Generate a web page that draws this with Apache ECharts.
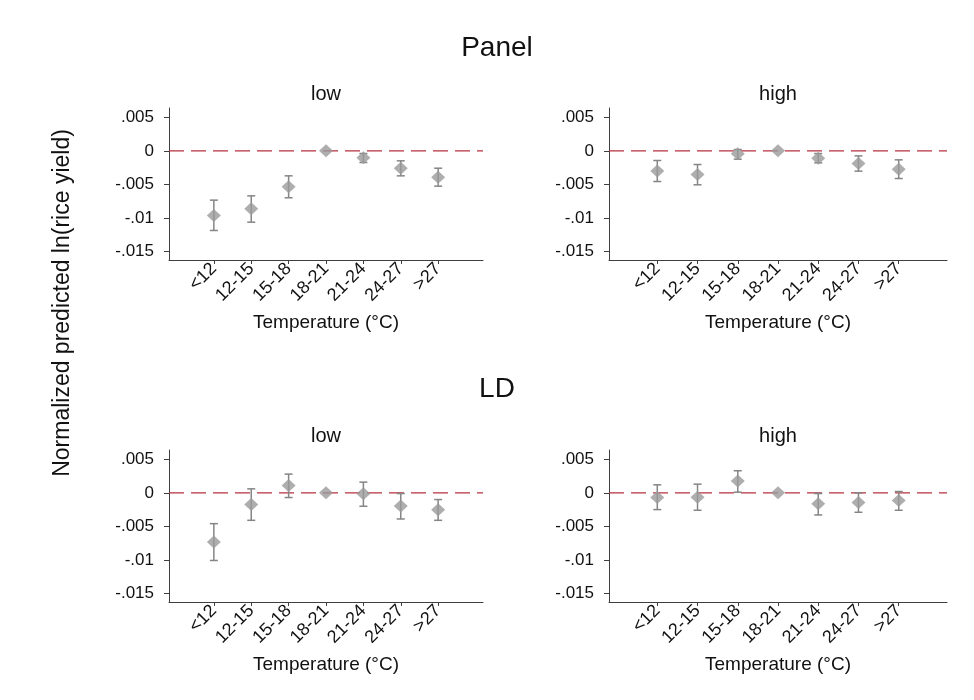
<!DOCTYPE html>
<html>
<head>
<meta charset="utf-8">
<title>Normalized predicted ln(rice yield) by temperature bin</title>
<script src="https://cdn.jsdelivr.net/npm/echarts@6/dist/echarts.min.js"></script>
<style>
  html, body { margin: 0; padding: 0; background: #fff; }
  #chart { width: 974px; height: 700px; }
</style>
</head>
<body>
<div id="chart"></div>
<script>
// Temperature bins (x axis categories)
const tempBins = ['<12', '12-15', '15-18', '18-21', '21-24', '24-27', '>27'];

// Y-axis tick values and their labels
const yTickValues = [0.005, 0, -0.005, -0.01, -0.015];
const yTickLabels = ['.005', '0', '-.005', '-.01', '-.015'];

// Panel, low
const panelLowCoef  = [-0.00965, -0.00866, -0.00537, 0, -0.00104, -0.00259, -0.00393];
const panelLowUpper = [-0.00736, -0.00672, -0.00373, null, -0.00040, -0.00149, -0.00259];
const panelLowLower = [-0.01189, -0.01065, -0.00701, null, -0.00174, -0.00373, -0.00527];

// Panel, high
const panelHighCoef  = [-0.00299, -0.00353, -0.00045, 0, -0.00109, -0.00189, -0.00274];
const panelHighUpper = [-0.00144, -0.00204, 0.00020, null, -0.00040, -0.00075, -0.00134];
const panelHighLower = [-0.00458, -0.00507, -0.00124, null, -0.00179, -0.00303, -0.00413];

// LD, low
const ldLowCoef  = [-0.00733, -0.00173, 0.00109, 0, -0.00015, -0.00198, -0.00252];
const ldLowUpper = [-0.00460, 0.00060, 0.00280, null, 0.00160, -0.00010, -0.00100];
const ldLowLower = [-0.01010, -0.00410, -0.00070, null, -0.00200, -0.00390, -0.00410];

// LD, high
const ldHighCoef  = [-0.00070, -0.00064, 0.00178, 0, -0.00163, -0.00144, -0.00114];
const ldHighUpper = [0.00120, 0.00130, 0.00330, null, -0.00010, 0.00000, 0.00020];
const ldHighLower = [-0.00250, -0.00260, 0.00010, null, -0.00330, -0.00290, -0.00260];

// Axis ranges
const xRange = [-0.2, 8.2];
const yRange = [-0.0163, 0.0064];

const FONT = "'Liberation Sans', Arial, Helvetica, sans-serif";
const AXIS_COLOR = '#3f3f3f';
const MARK_COLOR = '#9a9a9a';
const BAR_COLOR = '#858585';
const REF_COLOR = '#b8303f';

const panels = [
  { coef: panelLowCoef,  upper: panelLowUpper,  lower: panelLowLower,  grid: { left: 169, top: 108, width: 314, height: 152 } },
  { coef: panelHighCoef, upper: panelHighUpper, lower: panelHighLower, grid: { left: 609, top: 108, width: 338, height: 152 } },
  { coef: ldLowCoef,     upper: ldLowUpper,     lower: ldLowLower,     grid: { left: 169, top: 450, width: 314, height: 152 } },
  { coef: ldHighCoef,    upper: ldHighUpper,    lower: ldHighLower,    grid: { left: 609, top: 450, width: 338, height: 152 } }
];

const binPositions = tempBins.map((_, i) => i + 1);

function yLabel(v) {
  let best = 0;
  for (let i = 1; i < yTickValues.length; i++) {
    if (Math.abs(yTickValues[i] - v) < Math.abs(yTickValues[best] - v)) best = i;
  }
  return yTickLabels[best];
}

const grids = [], xAxes = [], yAxes = [], series = [];

panels.forEach((p, idx) => {
  grids.push(Object.assign({ containLabel: false }, p.grid));

  xAxes.push({
    type: 'value', gridIndex: idx, min: xRange[0], max: xRange[1],
    name: 'Temperature (°C)', nameLocation: 'middle', nameGap: 53,
    nameTextStyle: { fontFamily: FONT, fontSize: 19, color: '#111' },
    axisLine: { show: true, onZero: false, lineStyle: { color: AXIS_COLOR, width: 1 } },
    axisTick: { show: true, length: 4, customValues: binPositions, lineStyle: { color: AXIS_COLOR } },
    axisLabel: {
      show: true, rotate: 45, margin: 6, fontFamily: FONT, fontSize: 18, color: '#111',
      customValues: binPositions,
      formatter: v => tempBins[Math.round(v) - 1] || ''
    },
    splitLine: { show: false }
  });

  yAxes.push({
    type: 'value', gridIndex: idx, min: yRange[0], max: yRange[1],
    axisLine: { show: true, onZero: false, lineStyle: { color: AXIS_COLOR, width: 1 } },
    axisTick: { show: true, length: 5, customValues: yTickValues, lineStyle: { color: AXIS_COLOR } },
    axisLabel: {
      show: true, margin: 15, fontFamily: FONT, fontSize: 17, color: '#111',
      customValues: yTickValues,
      formatter: v => yLabel(v)
    },
    splitLine: { show: false }
  });

  // dashed reference line at zero across the plot
  series.push({
    type: 'line', xAxisIndex: idx, yAxisIndex: idx, silent: true, z: 2,
    symbol: 'none',
    lineStyle: { color: REF_COLOR, width: 1.3, type: [15, 7] },
    data: [[xRange[0], 0], [xRange[1], 0]]
  });

  // confidence interval bars
  const ciData = [];
  tempBins.forEach((_, i) => {
    if (p.upper[i] !== null && p.lower[i] !== null) ciData.push([i + 1, p.lower[i], p.upper[i]]);
  });
  series.push({
    type: 'custom', xAxisIndex: idx, yAxisIndex: idx, silent: true, z: 3,
    data: ciData,
    renderItem: (params, api) => {
      const lo = api.coord([api.value(0), api.value(1)]);
      const hi = api.coord([api.value(0), api.value(2)]);
      const cap = 4;
      const style = { stroke: BAR_COLOR, lineWidth: 1.5 };
      return {
        type: 'group',
        children: [
          { type: 'line', shape: { x1: lo[0], y1: lo[1], x2: hi[0], y2: hi[1] }, style },
          { type: 'line', shape: { x1: lo[0] - cap, y1: lo[1], x2: lo[0] + cap, y2: lo[1] }, style },
          { type: 'line', shape: { x1: hi[0] - cap, y1: hi[1], x2: hi[0] + cap, y2: hi[1] }, style }
        ]
      };
    }
  });

  // point estimates
  series.push({
    type: 'scatter', xAxisIndex: idx, yAxisIndex: idx, silent: true, z: 4,
    symbol: 'diamond', symbolSize: [14, 13],
    itemStyle: { color: MARK_COLOR },
    data: p.coef.map((v, i) => [i + 1, v])
  });
});

const textStyle = (text, size) => ({
  text, fontFamily: FONT, fontSize: size, fill: '#111', textAlign: 'center', textVerticalAlign: 'middle'
});

const option = {
  backgroundColor: '#fff',
  animation: false,
  grid: grids,
  xAxis: xAxes,
  yAxis: yAxes,
  series: series,
  graphic: [
    { type: 'text', x: 497, y: 48, style: textStyle('Panel', 28) },
    { type: 'text', x: 497, y: 389, style: textStyle('LD', 28) },
    { type: 'text', x: 326, y: 94, style: textStyle('low', 20) },
    { type: 'text', x: 778, y: 94, style: textStyle('high', 20) },
    { type: 'text', x: 326, y: 436, style: textStyle('low', 20) },
    { type: 'text', x: 778, y: 436, style: textStyle('high', 20) },
    { type: 'text', x: 63, y: 303, rotation: Math.PI / 2, style: textStyle('Normalized predicted ln(rice yield)', 23) }
  ]
};

const chart = echarts.init(document.getElementById('chart'), null, { renderer: 'canvas' });
chart.setOption(option);
</script>
</body>
</html>
